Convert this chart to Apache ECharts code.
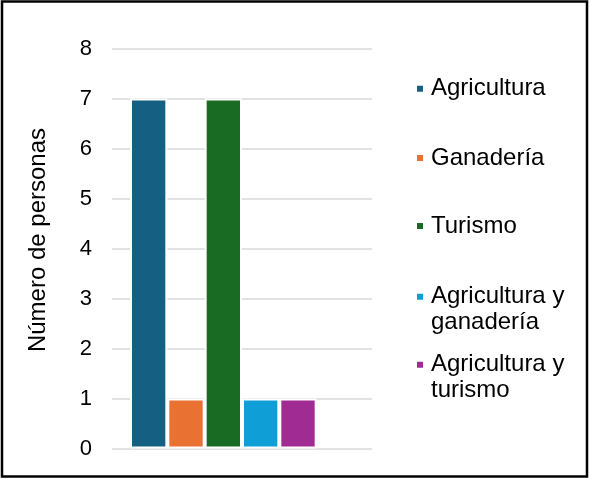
<!DOCTYPE html>
<html>
<head>
<meta charset="utf-8">
<script src="https://cdn.jsdelivr.net/npm/echarts@6/dist/echarts.min.js"></script>
<style>
  html, body { margin: 0; padding: 0; background: #fff; }
  #chart { width: 590px; height: 479px; }
</style>
</head>
<body>
<div id="chart"></div>
<script>
// Activity groups and number of people in each
const categories = [''];
const seriesNames = ['Agricultura', 'Ganadería', 'Turismo', 'Agricultura y ganadería', 'Agricultura y turismo'];
const legendLabels = ['Agricultura', 'Ganadería', 'Turismo', 'Agricultura y\nganadería', 'Agricultura y\nturismo'];
const values = [7, 1, 7, 1, 1];
const colors = ['#156082', '#E97132', '#196B24', '#0F9ED5', '#A02B93'];
const yTicks = { min: 0, max: 8, interval: 1 };
const yTitle = 'Número de personas';

const FONT = '"Liberation Sans", Arial, sans-serif';
const FS = 24;
const LH = 26;

const chart = echarts.init(document.getElementById('chart'), null, { renderer: 'canvas' });

// one bar series per activity, plus an empty trailing slot
const series = seriesNames.map((name, i) => ({
  name: name,
  type: 'bar',
  data: [values[i]],
  barGap: '0%',
  barCategoryGap: '13.85%',
  itemStyle: { color: colors[i], borderColor: '#ffffff', borderWidth: 2 },
  emphasis: { disabled: true },
  animation: false
}));
series.push({ name: '_slot', type: 'bar', data: ['-'], barGap: '0%', barCategoryGap: '13.85%', animation: false });

// legend entries, each positioned on its own row
const legendTops = [75.8, 145, 213, 257.7, 325.8];
const legends = seriesNames.map((name, i) => ({
  data: [name],
  orient: 'vertical',
  left: 415,
  top: legendTops[i],
  padding: 0,
  itemWidth: 8,
  itemHeight: 8,
  icon: 'rect',
  selectedMode: false,
  formatter: () => legendLabels[i].indexOf('\n') >= 0 ? ' \n' + legendLabels[i] : legendLabels[i],
  textStyle: { fontFamily: FONT, fontSize: FS, lineHeight: LH, color: '#000', padding: [0, 0, 0, 2] }
}));

chart.setOption({
  backgroundColor: '#ffffff',
  animation: false,
  color: colors,
  grid: { left: 112, top: 48.5, width: 260, height: 400, containLabel: false },
  legend: legends,
  xAxis: {
    type: 'category',
    data: categories,
    axisLine: { show: false },
    axisTick: { show: false },
    axisLabel: { show: false },
    splitLine: { show: false }
  },
  yAxis: {
    type: 'value',
    min: yTicks.min,
    max: yTicks.max,
    interval: yTicks.interval,
    axisLine: { show: false },
    axisTick: { show: false },
    axisLabel: { fontFamily: FONT, fontSize: 22, color: '#000', margin: 20 },
    splitLine: { lineStyle: { color: '#d9d9d9', width: 1.5 } },
    name: yTitle,
    nameLocation: 'middle',
    nameGap: 62,
    nameRotate: 90,
    nameTextStyle: { fontFamily: FONT, fontSize: FS, color: '#000', padding: [0, 0, 0, 17] }
  },
  series: series,
  graphic: [{
    type: 'rect',
    shape: { x: 2, y: 1.5, width: 585, height: 475 },
    style: { fill: null, stroke: '#000', lineWidth: 2.5 },
    silent: true,
    z: 100
  }]
});
</script>
</body>
</html>
